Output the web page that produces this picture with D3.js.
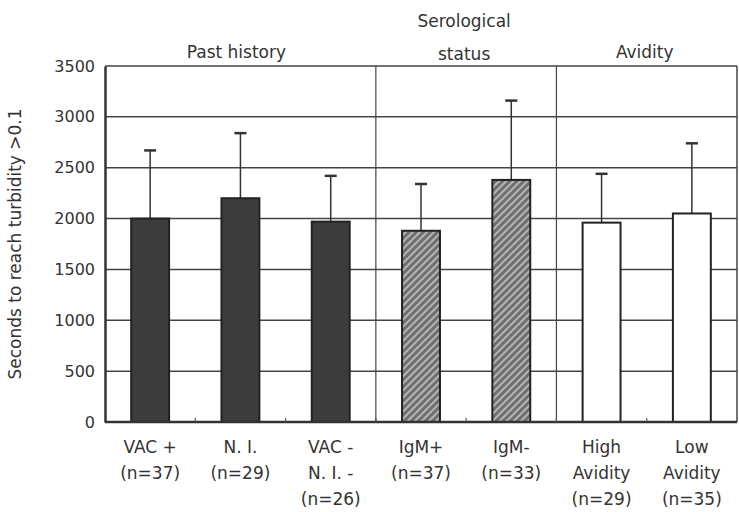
<!DOCTYPE html>
<html>
<head>
<meta charset="utf-8">
<script src="https://cdn.jsdelivr.net/npm/d3@7"></script>
<style>
  body { margin: 0; background: #fff; }
  svg { display: block; }
  text { font-family: "DejaVu Sans", "Noto Sans", sans-serif; fill: #333; }
</style>
</head>
<body>
<svg id="chart"></svg>
<script>
// data
const categories = ['VAC+', 'N.I.', 'VAC-N.I.-', 'IgM+', 'IgM-', 'High Avidity', 'Low Avidity'];
const labelLines = [
  ['VAC +', '(n=37)'],
  ['N. I.', '(n=29)'],
  ['VAC -', 'N. I. -', '(n=26)'],
  ['IgM+', '(n=37)'],
  ['IgM-', '(n=33)'],
  ['High', 'Avidity', '(n=29)'],
  ['Low', 'Avidity', '(n=35)']
];
const means = [2000, 2200, 1970, 1880, 2380, 1960, 2050];
const upperSD = [2670, 2840, 2420, 2340, 3160, 2440, 2740];
const fillKind = ['dark', 'dark', 'dark', 'hatch', 'hatch', 'white', 'white'];
const groups = [
  { name: ['Past history'], from: 0, to: 2 },
  { name: ['Serological', 'status'], from: 3, to: 4 },
  { name: ['Avidity'], from: 5, to: 6 }
];
const yTicks = [0, 500, 1000, 1500, 2000, 2500, 3000, 3500];

const width = 739;
const height = 512;
const marginLeft = 105;
const marginRight = 2;
const marginTop = 66;
const marginBottom = 90;

const svg = d3.select('#chart')
  .attr('width', width)
  .attr('height', height)
  .attr('viewBox', [0, 0, width, height]);

const defs = svg.append('defs');
const hatch = defs.append('pattern')
  .attr('id', 'hatch')
  .attr('patternUnits', 'userSpaceOnUse')
  .attr('width', 5)
  .attr('height', 5)
  .attr('patternTransform', 'rotate(45)');
hatch.append('rect').attr('width', 5).attr('height', 5).attr('fill', '#6f6f6f');
hatch.append('rect').attr('x', 0).attr('width', 2).attr('height', 5).attr('fill', '#b5b5b5');

const x = d3.scaleBand()
  .domain(categories)
  .range([marginLeft, width - marginRight])
  .paddingInner(0.58)
  .paddingOuter(0.29);

const y = d3.scaleLinear()
  .domain([0, 3500])
  .range([height - marginBottom, marginTop]);

const step = x.step();
const bandStart = (i) => x(categories[i]) - x.paddingInner() * step / 2;

// horizontal grid lines
svg.append('g')
  .attr('stroke', '#444')
  .attr('stroke-width', 1.5)
  .selectAll('line')
  .data(yTicks.slice(1))
  .join('line')
  .attr('x1', marginLeft)
  .attr('x2', width - marginRight)
  .attr('y1', (d) => y(d))
  .attr('y2', (d) => y(d));

// section dividers
svg.append('g')
  .attr('stroke', '#444')
  .attr('stroke-width', 1.2)
  .selectAll('line')
  .data(groups.slice(1))
  .join('line')
  .attr('x1', (g) => bandStart(g.from))
  .attr('x2', (g) => bandStart(g.from))
  .attr('y1', y(3500))
  .attr('y2', y(0));

// right frame
svg.append('line')
  .attr('x1', width - marginRight).attr('x2', width - marginRight)
  .attr('y1', y(3500)).attr('y2', y(0))
  .attr('stroke', '#444').attr('stroke-width', 1.5);

// error bars
const eb = svg.append('g').attr('stroke', '#333').attr('stroke-width', 1.5);
categories.forEach((c, i) => {
  const cx = x(c) + x.bandwidth() / 2;
  eb.append('line')
    .attr('x1', cx).attr('x2', cx)
    .attr('y1', y(means[i])).attr('y2', y(upperSD[i]));
  eb.append('line')
    .attr('x1', cx - 6).attr('x2', cx + 6)
    .attr('y1', y(upperSD[i])).attr('y2', y(upperSD[i]))
    .attr('stroke-width', 2.5);
});

// bars
const fills = { dark: '#3c3c3c', hatch: 'url(#hatch)', white: '#ffffff' };
svg.append('g')
  .selectAll('rect')
  .data(categories)
  .join('rect')
  .attr('x', (d) => x(d))
  .attr('y', (d, i) => y(means[i]))
  .attr('width', x.bandwidth())
  .attr('height', (d, i) => y(0) - y(means[i]))
  .attr('fill', (d, i) => fills[fillKind[i]])
  .attr('stroke', '#222')
  .attr('stroke-width', 2);

// y axis
const gy = svg.append('g')
  .attr('transform', `translate(${marginLeft},0)`)
  .call(d3.axisLeft(y).tickValues(yTicks).tickFormat(d3.format('d')).tickSize(0).tickPadding(10));
gy.select('.domain').attr('stroke', '#333').attr('stroke-width', 2.5);
gy.selectAll('.tick text')
  .style('font-size', '16px')
  .attr('fill', '#333');

// x axis line with small ticks at band edges
const gx = svg.append('g')
  .attr('transform', `translate(0,${y(0)})`);
gx.append('line')
  .attr('x1', marginLeft).attr('x2', width - marginRight)
  .attr('stroke', '#333').attr('stroke-width', 2.5);
gx.selectAll('.edge')
  .data(d3.range(1, categories.length))
  .join('line')
  .attr('class', 'edge')
  .attr('x1', (i) => bandStart(i)).attr('x2', (i) => bandStart(i))
  .attr('y1', 0).attr('y2', -4)
  .attr('stroke', '#555').attr('stroke-width', 1.2);

// category labels
const lab = svg.append('g').style('font-size', '17px').attr('text-anchor', 'middle');
categories.forEach((c, i) => {
  const cx = x(c) + x.bandwidth() / 2;
  labelLines[i].forEach((t, k) => {
    lab.append('text')
      .attr('x', cx)
      .attr('y', y(0) + 31 + k * 26)
      .text(t);
  });
});

// group headers
const hdr = svg.append('g').style('font-size', '17px').attr('text-anchor', 'middle');
groups.forEach((g) => {
  const x0 = bandStart(g.from);
  const x1 = bandStart(g.to) + step;
  const n = g.name.length;
  g.name.forEach((t, k) => {
    hdr.append('text')
      .attr('x', (x0 + x1) / 2 - (g.from === 0 ? 4 : 2))
      .attr('y', 58 + (n > 1 ? 2 : 0) - (n - 1 - k) * 33)
      .text(t);
  });
});

// y axis title
svg.append('text')
  .attr('transform', `translate(21,${(y(0) + y(3500)) / 2}) rotate(-90)`)
  .attr('text-anchor', 'middle')
  .style('font-size', '17px')
  .text('Seconds to reach turbidity >0.1');
</script>
</body>
</html>
